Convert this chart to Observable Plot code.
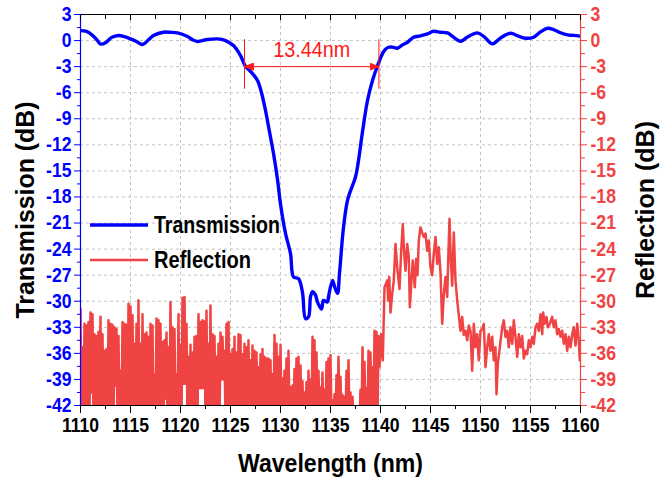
<!DOCTYPE html>
<html><head><meta charset="utf-8">
<script src="https://cdn.jsdelivr.net/npm/d3@7"></script>
<script src="https://cdn.jsdelivr.net/npm/@observablehq/plot@0.6"></script>
<style>
body{margin:0;background:#fff;}
#wrap{position:relative;width:667px;height:478px;}
#legend{position:absolute;left:0;top:0;pointer-events:none;}
</style></head><body><div id="wrap"></div>
<script>
// ---- Transmission (dB) vs wavelength (nm)
const transWl = [1110.0,1110.6,1111.2,1111.7,1112.0,1112.5,1113.1,1113.8,1114.4,1115.0,1115.6,1116.2,1116.8,1117.3,1118.3,1119.0,1119.7,1120.7,1121.2,1121.7,1122.7,1123.7,1124.5,1125.3,1126.0,1126.5,1127.2,1127.7,1128.1,1128.5,1128.9,1129.3,1129.7,1130.0,1130.5,1131.0,1131.3,1131.8,1132.2,1132.5,1132.8,1133.0,1133.2,1133.5,1133.7,1134.1,1134.3,1134.7,1134.8,1135.2,1135.4,1135.7,1135.9,1136.3,1136.7,1137.0,1137.5,1137.8,1138.2,1138.7,1139.2,1139.7,1140.2,1140.5,1140.8,1141.2,1141.7,1142.2,1142.7,1143.3,1144.0,1144.7,1145.3,1146.0,1146.7,1147.3,1148.0,1148.7,1149.7,1150.4,1151.2,1152.0,1153.0,1153.8,1154.5,1155.3,1156.0,1156.7,1157.3,1158.0,1158.7,1159.3,1160.0];
const transDb = [1.15,1.05,0.6,0.0,-0.4,-0.25,0.35,0.58,0.45,0.2,-0.1,-0.46,0.1,0.58,0.96,0.95,0.88,0.46,0.1,-0.1,0.12,0.19,0.0,-0.58,-1.73,-2.95,-3.8,-4.6,-6.0,-8.05,-10.5,-13.0,-16.0,-18.8,-22.2,-24.5,-27.2,-27.4,-29.0,-32.0,-31.8,-29.5,-28.9,-29.3,-30.1,-30.9,-29.9,-30.1,-29.5,-27.6,-28.3,-29.1,-26.8,-21.5,-18.4,-17.3,-15.7,-13.8,-10.5,-6.9,-4.6,-2.9,-1.5,-1.0,-0.77,-0.75,-0.88,-0.5,-0.19,0.38,0.55,0.77,1.07,0.95,0.88,0.4,-0.08,0.4,0.88,0.4,-0.38,0.3,0.84,0.5,0.27,0.38,1.0,1.42,1.27,0.9,0.65,0.6,0.5];

// ---- Reflection (dB): noisy part 1110–1140, peaks sampled at 1110.0 + 0.2k, troughs at 1110.1 + 0.2k
const reflStart = 1110.0, reflStep = 0.2;
const reflPeaks = [
-30.9,-35.3,-32.6,-32.8,-32.4,-31.3,-31.5,-33.8,-34.0,-33.5,
-31.8,-33.8,-35.7,-35.5,-32.2,-32.6,-32.7,-33.0,-33.2,-34.0,
-38.0,-32.4,-32.6,-32.7,-30.3,-30.6,-31.6,-34.9,-32.6,-29.9,
-34.9,-31.5,-33.8,-33.6,-34.1,-32.6,-32.8,-38.4,-32.0,-32.2,
-32.6,-34.7,-34.5,-33.6,-35.3,-30.1,-33.0,-33.2,-38.4,-31.5,
-35.0,-29.6,-29.5,-32.6,-36.4,-35.0,-35.9,-34.1,-34.0,-31.5,
-32.4,-32.2,-32.3,-31.1,-34.9,-30.5,-33.8,-34.0,-36.4,-34.9,
-33.6,-34.1,-35.7,-32.6,-32.4,-36.1,-35.5,-34.1,-35.9,-33.8,
-33.9,-36.1,-34.9,-35.3,-34.5,-36.8,-35.1,-35.7,-35.9,-37.6,
-36.1,-35.5,-36.4,-36.6,-36.6,-36.8,-38.4,-33.9,-34.9,-36.4,
-35.0,-38.9,-38.0,-36.6,-35.7,-39.9,-39.7,-37.8,-36.6,-36.4,
-37.4,-39.2,-40.5,-39.3,-38.0,-39.0,-34.1,-34.5,-35.9,-38.0,
-39.9,-38.2,-40.2,-37.0,-36.6,-36.2,-41.4,-40.7,-38.5,-36.4,
-38.7,-40.8,-41.0,-38.0,-36.8,-40.5,-41.0,-44,-44,-44,
-40.2,-35.3,-37.0,-40.0,-35.7,-35.9,-37.6,-33.4,-33.5,-34.0];
const reflTroughs = [
-44,-44,-44,-44,-44,-40.5,-44,-44,-44,-44,
-44,-44,-44,-44,-44,-44,-44,-39.7,-44,-44,
-44,-44,-44,-44,-44,-44,-44,-44,-44,-44,
-44,-44,-44,-44,-44,-44,-44,-44,-44,-44,
-44,-44,-41.2,-44,-44,-44,-44,-44,-44,-44,
-44,-39.5,-39.5,-44,-44,-44,-44,-44,-44,-40,
-40,-40,-44,-44,-44,-44,-44,-44,-44,-44,
-39,-39,-44,-44,-44,-44,-44,-44,-44,-44,
-44,-44,-44,-44,-44,-44,-44,-44,-44,-44,
-44,-44,-44,-44,-44,-44,-44,-44,-44,-44,
-44,-44,-44,-44,-44,-44,-44,-44,-44,-44,
-44,-44,-44,-44,-44,-44,-44,-44,-44,-44,
-44,-44,-44,-44,-44,-44,-44,-44,-44,-44,
-44,-44,-44,-44,-44,-44,-44,-44,-44,-44,
-44,-44,-44,-44,-44,-44,-44,-44,-44,-37.6];
// ---- Reflection: band 1140–1160
const tailWl = [1140.07,1140.23,1140.40,1140.55,1140.67,1140.77,1140.87,1141.00,1141.17,1141.33,1141.50,1141.67,1141.90,1142.07,1142.23,1142.33,1142.50,1142.67,1142.83,1142.93,1143.10,1143.23,1143.43,1143.57,1143.70,1143.83,1144.00,1144.17,1144.33,1144.50,1144.67,1144.83,1145.00,1145.17,1145.33,1145.50,1145.67,1145.83,1146.00,1146.17,1146.33,1146.50,1146.67,1146.77,1146.90,1147.03,1147.17,1147.33,1147.50,1147.67,1147.83,1148.00,1148.17,1148.33,1148.50,1148.67,1148.83,1149.00,1149.17,1149.33,1149.50,1149.67,1149.83,1150.00,1150.17,1150.33,1150.50,1150.67,1150.83,1151.00,1151.17,1151.33,1151.50,1151.60,1151.73,1151.93,1152.17,1152.33,1152.50,1152.67,1152.83,1153.00,1153.17,1153.33,1153.50,1153.67,1153.83,1154.00,1154.17,1154.33,1154.50,1154.67,1154.83,1155.00,1155.17,1155.33,1155.50,1155.67,1155.83,1156.00,1156.17,1156.27,1156.40,1156.60,1156.73,1156.93,1157.17,1157.33,1157.50,1157.67,1157.83,1158.00,1158.17,1158.33,1158.50,1158.67,1158.83,1159.00,1159.17,1159.33,1159.50,1159.67,1159.83,1159.93,1160.00];
const tailDb = [-33.8,-36.8,-28.4,-28.0,-27.6,-29.9,-27.2,-31.3,-29.2,-27.6,-23.4,-26.1,-28.6,-24.2,-21.1,-23.8,-26.5,-23.4,-24.9,-30.7,-27.6,-25.3,-28.4,-25.1,-27.0,-23.0,-21.5,-22.1,-22.6,-22.2,-24.2,-23.0,-26.1,-27.0,-24.5,-22.6,-25.7,-23.8,-26.7,-32.6,-29.2,-27.2,-29.5,-25.3,-20.5,-25.3,-28.2,-22.1,-27.6,-29.9,-31.6,-33.4,-31.8,-33.9,-33.4,-34.5,-32.8,-33.4,-38.0,-32.6,-35.3,-33.8,-36.8,-33.4,-33.2,-32.6,-37.6,-35.3,-33.8,-35.7,-34.1,-36.8,-35.3,-40.7,-37.2,-35.3,-33.0,-32.2,-34.1,-33.4,-35.3,-33.0,-34.9,-32.2,-34.1,-36.4,-33.8,-35.3,-34.0,-36.6,-35.7,-36.1,-34.5,-35.3,-34.1,-34.9,-33.0,-32.6,-33.4,-31.5,-33.8,-31.3,-32.6,-31.8,-33.0,-32.6,-31.8,-33.0,-32.2,-33.8,-33.2,-34.1,-33.4,-34.9,-33.8,-35.7,-34.1,-35.3,-33.8,-33.0,-35.1,-32.6,-34.5,-36.8,-36.4];

// ---- Axes / ticks
const xTicks = [1110,1115,1120,1125,1130,1135,1140,1145,1150,1155,1160];
const xMinor = [1112.5,1117.5,1122.5,1127.5,1132.5,1137.5,1142.5,1147.5,1152.5,1157.5];
const yTicks = [3,0,-3,-6,-9,-12,-15,-18,-21,-24,-27,-30,-33,-36,-39,-42];
const yMinor = [1.5,-1.5,-4.5,-7.5,-10.5,-13.5,-16.5,-19.5,-22.5,-25.5,-28.5,-31.5,-34.5,-37.5,-40.5];
const xGrid = [1115,1120,1125,1130,1135,1140,1145,1150,1155];
const yGrid = [0,-3,-6,-9,-12,-15,-18,-21,-24,-27,-30,-33,-36,-39];

// ---- Annotation: 3-dB bandwidth
const bwLeft = 1126.4, bwWidth = 13.44, bwLabel = "13.44nm", bwLevel = -3;
const seriesNames = ["Transmission", "Reflection"];
const xTitle = "Wavelength (nm)", yTitleL = "Transmission (dB)", yTitleR = "Reflection (dB)";

const BLUE = "#0000ff", RED = "#f04343", ANN = "#ff1a1a";
const FONT = "'Liberation Sans', Arial, sans-serif";

const trans = transWl.map((w, i) => ({w, db: transDb[i]}));
const refl = [];
reflPeaks.forEach((p, i) => {
  refl.push({w: reflStart + reflStep * i, db: p});
  refl.push({w: reflStart + reflStep * i + reflStep / 2, db: reflTroughs[i]});
});
tailWl.forEach((w, i) => refl.push({w, db: tailDb[i]}));

function tri(color, context) {
  const m = d3.create("svg:marker")
    .attr("viewBox", "-9 -4 9 8")
    .attr("markerWidth", 9)
    .attr("markerHeight", 8)
    .attr("markerUnits", "userSpaceOnUse")
    .attr("refX", 0).attr("refY", 0)
    .attr("orient", "auto-start-reverse");
  m.append("path").attr("d", "M-9,-3.5L0,0L-9,3.5Z").attr("fill", color);
  return m.node();
}

const ann = [{x1: bwLeft, x2: bwLeft + bwWidth, y: bwLevel}];

const chart = Plot.plot({
  width: 667, height: 478,
  marginLeft: 80, marginRight: 87, marginTop: 14, marginBottom: 73,
  style: {fontFamily: FONT, fontSize: "20px", fontWeight: "bold", background: "#fff", overflow: "visible"},
  x: {domain: [1110, 1160], label: null},
  y: {domain: [-42, 3], label: null},
  marks: [
    Plot.gridX(xGrid, {stroke: "#c4c4c4", strokeOpacity: 1, strokeDasharray: "3,3"}),
    Plot.gridY(yGrid, {stroke: "#c4c4c4", strokeOpacity: 1, strokeDasharray: "3,3"}),
    Plot.line(refl, {x: "w", y: "db", stroke: RED, strokeWidth: 2.5, clip: true}),
    Plot.line(trans, {x: "w", y: "db", stroke: BLUE, strokeWidth: 3.4, curve: "catmull-rom", clip: true}),
    Plot.ruleX([bwLeft, bwLeft + bwWidth], {y1: () => 0.1, y2: () => -5.6, stroke: ANN, strokeWidth: 1}),
    Plot.link(ann, {x1: "x1", x2: "x2", y1: "y", y2: "y", stroke: ANN, strokeWidth: 1, markerStart: tri, markerEnd: tri}),
    Plot.text([bwLabel], {x: () => bwLeft + bwWidth / 2, y: () => bwLevel, text: d => d, dy: -10, lineAnchor: "bottom", fill: ANN, fontSize: 22, fontWeight: "normal"}),
    // axis lines
    Plot.ruleY([3], {stroke: "#000", strokeWidth: 1.2}),
    Plot.ruleY([-42], {stroke: "#000", strokeWidth: 1.2}),
    Plot.ruleX([1110], {stroke: BLUE, strokeWidth: 1.2}),
    Plot.ruleX([1160], {stroke: RED, strokeWidth: 1.2}),
    // bottom axis
    Plot.axisX(xTicks, {anchor: "bottom", tickSize: 8, tickPadding: 4, tickFormat: d => String(d), color: "#000", label: null}),
    Plot.axisX(xMinor, {anchor: "bottom", tickSize: 4, tickFormat: () => "", color: "#000", label: null}),
    // top axis (inward ticks)
    Plot.axisX(xTicks, {anchor: "top", tickSize: -5, tickFormat: () => "", color: "#000", label: null}),
    Plot.axisX(xMinor, {anchor: "top", tickSize: -4, tickFormat: () => "", color: "#000", label: null}),
    // left axis
    Plot.axisY(yTicks, {anchor: "left", tickSize: 6, tickPadding: 3, tickFormat: d => String(d), color: BLUE, label: null}),
    Plot.axisY(yMinor, {anchor: "left", tickSize: 3, tickFormat: () => "", color: BLUE, label: null}),
    // right axis
    Plot.axisY(yTicks, {anchor: "right", tickSize: 6, tickPadding: 4, tickFormat: d => String(d), color: RED, label: null}),
    Plot.axisY(yMinor, {anchor: "right", tickSize: 4, tickFormat: () => "", color: RED, label: null}),
    // axis titles
    Plot.text([xTitle], {frameAnchor: "bottom", text: d => d, dy: 58, lineAnchor: "middle", textAnchor: "middle", fontSize: 26, fill: "#000"}),
    Plot.text([yTitleL], {frameAnchor: "left", text: d => d, dx: -55, rotate: -90, lineAnchor: "middle", textAnchor: "middle", fontSize: 26, fill: "#000"}),
    Plot.text([yTitleR], {frameAnchor: "right", text: d => d, dx: 65, rotate: -90, lineAnchor: "middle", textAnchor: "middle", fontSize: 26, fill: "#000"})
  ]
});

const wrap = document.getElementById("wrap");
wrap.appendChild(chart);

// legend overlay (inside plot area)
const leg = d3.select(wrap).append("svg").attr("id", "legend").attr("width", 667).attr("height", 478);
const legItems = [{name: seriesNames[0], color: BLUE, w: 3.4, y: 225}, {name: seriesNames[1], color: RED, w: 2.5, y: 260}];
legItems.forEach(it => {
  leg.append("line").attr("x1", 90).attr("x2", 148).attr("y1", it.y).attr("y2", it.y)
    .attr("stroke", it.color).attr("stroke-width", it.w);
  leg.append("text").attr("x", 154).attr("y", it.y).attr("dy", "0.35em")
    .attr("font-family", FONT).attr("font-weight", "bold").attr("font-size", 23.5).attr("fill", "#000")
    .text(it.name);
});

// narrow-font look: condense glyphs horizontally (reference uses a condensed face)
const targetLen = {[xTitle]: 185, [yTitleL]: 217, [yTitleR]: 178, [seriesNames[0]]: 126, [seriesNames[1]]: 97, [bwLabel]: 77};
document.querySelectorAll("#wrap text").forEach(el => {
  const t = el.textContent;
  if (!t) return;
  const len = el.getComputedTextLength();
  const target = targetLen[t] != null ? targetLen[t] : len * 0.88;
  el.setAttribute("textLength", target);
  el.setAttribute("lengthAdjust", "spacingAndGlyphs");
});
</script></body></html>
